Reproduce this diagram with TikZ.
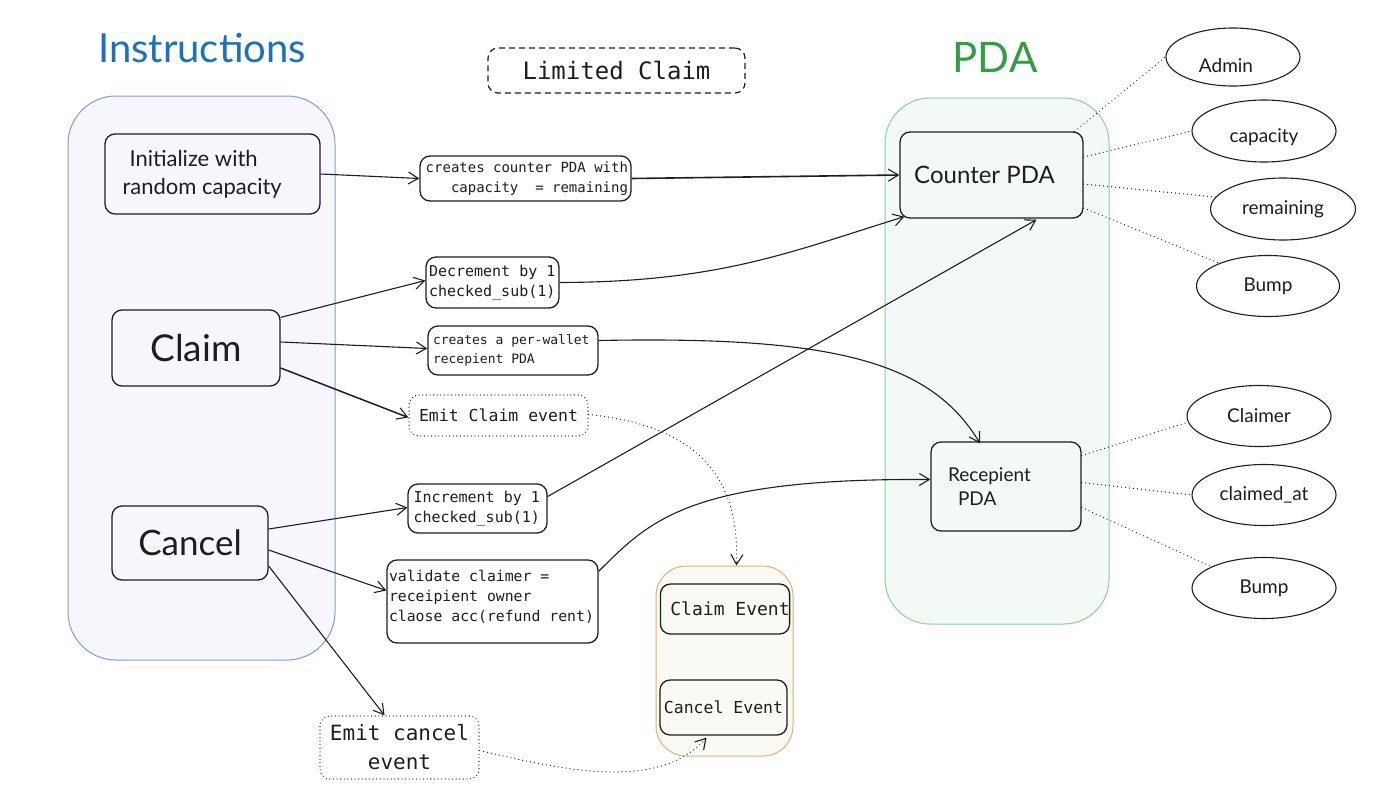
\documentclass[tikz,border=0pt]{standalone}
\usepackage{fontspec}
\setmainfont{Lato}
\setsansfont{Lato}
\setmonofont{DejaVu Sans Mono}[WordSpace={1,0,0}]
\usetikzlibrary{arrows.meta,shapes.geometric,calc}
\definecolor{ink}{HTML}{1E1E1E}
\definecolor{tblue}{HTML}{1971C2}
\definecolor{tgreen}{HTML}{2F9E44}
\definecolor{instline}{HTML}{7AA0DE}
\definecolor{instfill}{HTML}{F5F7FC}
\definecolor{pdaline}{HTML}{8BD09D}
\definecolor{pdafill}{HTML}{F3FAF5}
\definecolor{evline}{HTML}{E2B36C}
\definecolor{evfill}{HTML}{FBF9F4}
\newcommand{\myfs}[2]{\fontsize{#1}{#2}\selectfont}
\begin{document}
\begin{tikzpicture}[x=1pt,y=-1pt,
  box/.style={draw=ink, line width=1.3pt, rounded corners=10pt, inner sep=0pt, text=ink},
  container/.style={line width=1pt, inner sep=0pt},
  prop/.style={draw=ink, line width=1.1pt, ellipse, inner sep=0pt, text=ink, font=\myfs{19}{22}},
  arr/.style={draw=ink, line width=1.1pt, -{Straight Barb[length=10pt,width=12pt,line width=1.1pt]}},
  dotline/.style={draw=ink, line width=1.3pt, dash pattern=on 0.01pt off 4pt, line cap=round},
  dotarr/.style={dotline, -{Straight Barb[length=10pt,width=12pt,line width=1.1pt]}},
  dotbox/.style={box, line width=1.3pt, dash pattern=on 0.01pt off 3.6pt, line cap=round},
]
\useasboundingbox (0,0) rectangle (1396,798);

% titles
\node[text=tblue, font=\myfs{40}{48}] (ttlinst) at (202,48) {Instructions};
\node[text=tgreen, font=\myfs{42}{50}] (ttlpda) at (995,57) {PDA};
\node[box, line width=1.2pt, dash pattern=on 6pt off 4pt, minimum width=257pt, minimum height=45pt, font=\myfs{24}{28}\ttfamily] (lim) at (616.5,70.5) {Limited Claim};

% containers
\node[container, draw=instline, fill=instfill, rounded corners=48pt, minimum width=267pt, minimum height=564pt] (instc) at (201.5,378) {};
\node[container, draw=pdaline, fill=pdafill, rounded corners=45pt, minimum width=224pt, minimum height=526pt] (pdac) at (997,361) {};
\node[container, draw=evline, fill=evfill, rounded corners=30pt, minimum width=137pt, minimum height=190pt] (evc) at (724.5,661) {};

% instruction boxes
\node[box, minimum width=215pt, minimum height=80pt, text width=180pt, align=flush left, font=\myfs{22}{28}] (init) at (212.5,174) {\hspace*{7pt}Initialize with\\random capacity};
\node[box, minimum width=168pt, minimum height=76pt, font=\myfs{37}{44}] (claim) at (196,348) {Claim};
\node[box, minimum width=156pt, minimum height=74pt, font=\myfs{35}{42}] (cancel) at (190,543) {Cancel};

% middle boxes
\node[box, minimum width=211pt, minimum height=45pt, text width=205pt, align=flush right, font=\myfs{14}{20}\ttfamily] (cc) at (525.5,178.5) {creates counter PDA with\\capacity\ \ = remaining};
\node[box, minimum width=133pt, minimum height=51pt, text width=127pt, align=flush left, font=\myfs{15}{20}\ttfamily] (dec) at (492.5,282.5) {Decrement by 1\\checked\_sub(1)};
\node[box, minimum width=170pt, minimum height=49pt, text width=160pt, align=flush left, font=\myfs{13}{19}\ttfamily] (pw) at (513,350.5) {creates a per-wallet\\recepient PDA};
\node[dotbox, minimum width=179pt, minimum height=41pt, font=\myfs{16.5}{20}\ttfamily] (ec) at (498.5,415.5) {Emit Claim event};
\node[box, minimum width=139pt, minimum height=49pt, text width=128pt, align=flush left, font=\myfs{15}{20}\ttfamily] (inc) at (477.5,508.5) {Increment by 1\\checked\_sub(1)};
\node[box, minimum width=211pt, minimum height=83pt, text width=207pt, align=flush left, font=\myfs{14.8}{20}\ttfamily] (val) at (492.5,601.5) {validate claimer =\\receipient owner\\claose acc(refund rent)\\[-8pt]\mbox{}};
\node[dotbox, minimum width=159pt, minimum height=63pt, align=flush center, font=\myfs{21}{29}\ttfamily] (ecn) at (399.5,747.5) {Emit cancel\\event};

% events
\node[box, minimum width=124pt, minimum height=50pt, font=\myfs{18}{22}\ttfamily] (clev) at (725,609) {\hspace*{10pt}Claim Event};
\node[box, minimum width=127pt, minimum height=55pt, font=\myfs{16.5}{20}\ttfamily] (caev) at (723.5,707.5) {Cancel Event};

% PDA boxes
\node[box, minimum width=183pt, minimum height=86pt, font=\myfs{24}{28}] (cpda) at (991.5,175) {Counter PDA\hspace*{14pt}};
\node[box, minimum width=150pt, minimum height=89pt, text width=116pt, align=flush left, font=\myfs{19}{24}] (rpda) at (1006,486.5) {Recepient\\\hspace*{10pt}PDA};

% properties
\node[prop, minimum width=134pt, minimum height=58pt, text height=30pt, text depth=0pt] (admin) at (1233,57) {Admin\hspace*{14pt}};
\node[prop, minimum width=144pt, minimum height=62pt, text height=26pt, text depth=4pt] (cap) at (1264,131) {capacity};
\node[prop, minimum width=145pt, minimum height=62pt] (rem) at (1283,209) {remaining};
\node[prop, minimum width=143pt, minimum height=61pt] (bumpa) at (1268,286) {Bump};
\node[prop, minimum width=144pt, minimum height=61pt] (claimer) at (1259,416) {Claimer};
\node[prop, minimum width=144pt, minimum height=61pt] (clat) at (1264,495) {claimed\_at};
\node[prop, minimum width=144pt, minimum height=61pt] (bumpb) at (1264,588) {Bump};

% connectors
\draw[arr] (init.east) -- (cc.west);
\draw[arr, line width=1.6pt] (cc.east) -- (cpda.west);
\draw[arr] ([yshift=-8pt]claim.north east) -- ([yshift=2pt]dec.west);
\draw[arr] (dec.east) .. controls (720,282) and (790,252) .. ([xshift=5pt,yshift=2pt]cpda.south west);
\draw[arr] ([yshift=6pt]claim.east) -- ([yshift=2pt]pw.west);
\draw[arr] ([yshift=10pt]pw.east) .. controls (830,336) and (930,360) .. ([xshift=-26pt,yshift=-2pt]rpda.north);
\draw[arr, line width=1.5pt] ([yshift=-20pt]claim.east) -- ([yshift=-2pt]ec.west);
\draw[dotarr] ([yshift=1pt]ec.east) .. controls (690,425) and (740,470) .. ([xshift=12pt]evc.north);
\draw[arr] ([yshift=14pt]cancel.east) -- ([yshift=1pt]inc.west);
\draw[arr] ([yshift=12pt]inc.east) -- ([xshift=45pt,yshift=-1pt]cpda.south);
\draw[arr] ([yshift=-7pt]cancel.east) -- ([yshift=11pt]val.west);
\draw[arr] ([yshift=-12pt]val.north east) .. controls (650,520) and (690,478) .. ([yshift=7pt]rpda.west);
\draw[arr] ([yshift=-23pt]cancel.east) -- ([xshift=-15pt]ecn.north);
\draw[dotarr] ([yshift=-3pt]ecn.east) .. controls (570,772) and (660,790) .. ([xshift=-17pt,yshift=-2pt]caev.south);

% property links
\draw[dotline] ([xshift=-9pt]cpda.north east) -- (admin.west);
\draw[dotline] ([yshift=18pt]cpda.east) -- (cap.west);
\draw[dotline] ([yshift=-9pt]cpda.east) -- (rem.170);
\draw[dotline] ([yshift=-33pt]cpda.east) -- (bumpa.155);
\draw[dotline] ([yshift=31pt]rpda.east) -- (claimer.185);
\draw[dotline] ([yshift=4pt]rpda.east) -- (clat.west);
\draw[dotline] ([yshift=-21pt]rpda.east) -- (bumpb.158);
\end{tikzpicture}
\end{document}
